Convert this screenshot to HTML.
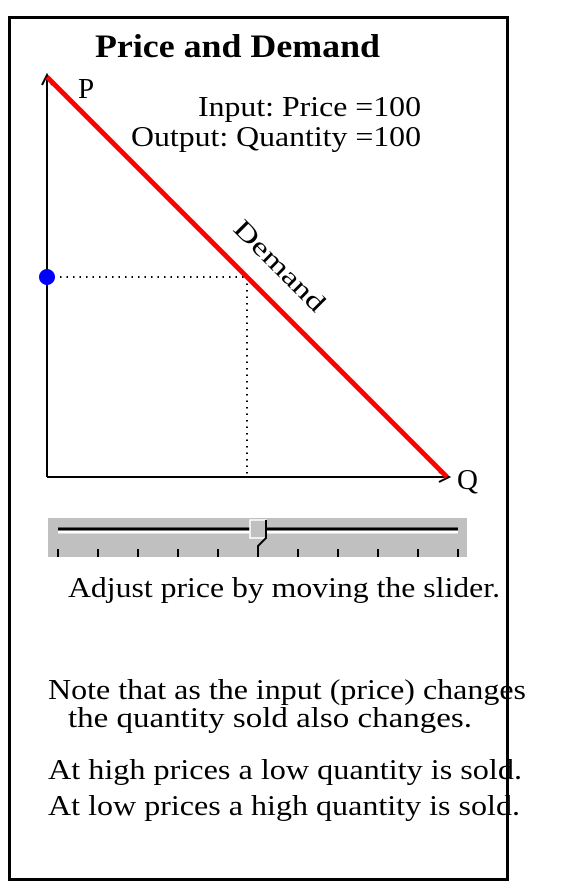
<!DOCTYPE html>
<html><head><meta charset="utf-8"><style>
body{margin:0;background:#fff;width:562px;height:888px;overflow:hidden}
svg{display:block;font-family:"Liberation Serif",serif}
</style></head><body>
<svg width="562" height="888">
<rect x="9.5" y="17.5" width="498" height="862" fill="none" stroke="#000" stroke-width="3"/>
<text x="95" y="57" font-size="33" font-weight="bold" textLength="285" lengthAdjust="spacingAndGlyphs">Price and Demand</text>
<g id="plot"></g>
<text x="198" y="116" font-size="29" textLength="223" lengthAdjust="spacingAndGlyphs" id="inLbl">Input: Price =100</text>
<text x="131" y="146" font-size="29" textLength="290" lengthAdjust="spacingAndGlyphs" id="outLbl">Output: Quantity =100</text>
<text x="78" y="98" font-size="29">P</text>
<text x="457" y="489" font-size="29">Q</text>
<text transform="translate(232,230) rotate(45)" font-size="26" textLength="118" lengthAdjust="spacingAndGlyphs">Demand</text>
<g>
<rect x="48" y="518" width="419" height="39" fill="#c0c0c0"/>
<line x1="58" y1="532" x2="458" y2="532" stroke="#fff" stroke-width="3"/>
<line x1="58" y1="529" x2="458" y2="529" stroke="#000" stroke-width="3"/>
<g id="ticks"></g>
<g id="thumb"></g>
</g>
<text x="68" y="597" font-size="29" textLength="432" lengthAdjust="spacingAndGlyphs">Adjust price by moving the slider.</text>
<text x="48" y="699" font-size="29" textLength="478" lengthAdjust="spacingAndGlyphs">Note that as the input (price) changes</text>
<text x="68" y="727" font-size="29" textLength="404" lengthAdjust="spacingAndGlyphs">the quantity sold also changes.</text>
<text x="48" y="779" font-size="29" textLength="474" lengthAdjust="spacingAndGlyphs">At high prices a low quantity is sold.</text>
<text x="48" y="815" font-size="29" textLength="472" lengthAdjust="spacingAndGlyphs">At low prices a high quantity is sold.</text>
</svg>
<script>
const priceRange=[0,200];
const quantityRange=[0,200];
const currentPrice=[100];
const sliderTicks=[0,1,2,3,4,5,6,7,8,9,10];
const NS="http://www.w3.org/2000/svg";
const x0=47,y0=477,W=400,H=400;
const xs=q=>x0+q/quantityRange[1]*W;
const ys=p=>y0-p/priceRange[1]*H;
function mk(t,a,parent){const e=document.createElementNS(NS,t);for(const k in a)e.setAttribute(k,a[k]);parent.appendChild(e);return e;}
const plot=document.getElementById('plot');
const p=currentPrice[0], q=quantityRange[1]-p;
let e;
e=mk('line',{x1:x0,y1:y0,x2:x0,y2:ys(priceRange[1])-2,stroke:'#000','stroke-width':2},plot);


e=mk('path',{d:`M${x0-5},${ys(200)+8} L${x0},${ys(200)-2} L${x0+5},${ys(200)+8}`,fill:'none',stroke:'#000','stroke-width':2},plot);


e=mk('line',{x1:x0,y1:y0,x2:xs(200)+2,y2:y0,stroke:'#000','stroke-width':2},plot);


e=mk('path',{d:`M${xs(200)-8},${y0-5} L${xs(200)+2},${y0} L${xs(200)-8},${y0+5}`,fill:'none',stroke:'#000','stroke-width':2},plot);


e=mk('line',{x1:x0,y1:ys(p),x2:xs(q),y2:ys(p),stroke:'#000','stroke-width':2,'stroke-dasharray':'1.5,5'},plot);


e=mk('line',{x1:xs(q),y1:ys(p),x2:xs(q),y2:y0,stroke:'#000','stroke-width':2,'stroke-dasharray':'1.5,5'},plot);


e=mk('line',{x1:xs(0),y1:ys(priceRange[1]),x2:xs(quantityRange[1]),y2:ys(0),stroke:'#f00','stroke-width':5},plot);


e=mk('circle',{cx:x0,cy:ys(p),r:8,fill:'#00f'},plot);


const tg=document.getElementById('ticks');
sliderTicks.forEach(t=>{const x=58+t*40;
const l=mk('line',{x1:x,y1:549,x2:x,y2:557,stroke:'#000','stroke-width':2},tg);

});
const tx=58+p/priceRange[1]*400;
const th=document.getElementById('thumb');
e=mk('rect',{x:tx-8,y:520,width:16,height:18,fill:'#c0c0c0',stroke:'#fff','stroke-width':1.5},th);


mk('path',{d:`M${tx+8},${520} L${tx+8},${538} L${tx},${546} L${tx},${557}`,fill:'none',stroke:'#000','stroke-width':2},th);
document.getElementById('inLbl').textContent='Input: Price ='+p;
document.getElementById('outLbl').textContent='Output: Quantity ='+q;
</script>
</body></html>
